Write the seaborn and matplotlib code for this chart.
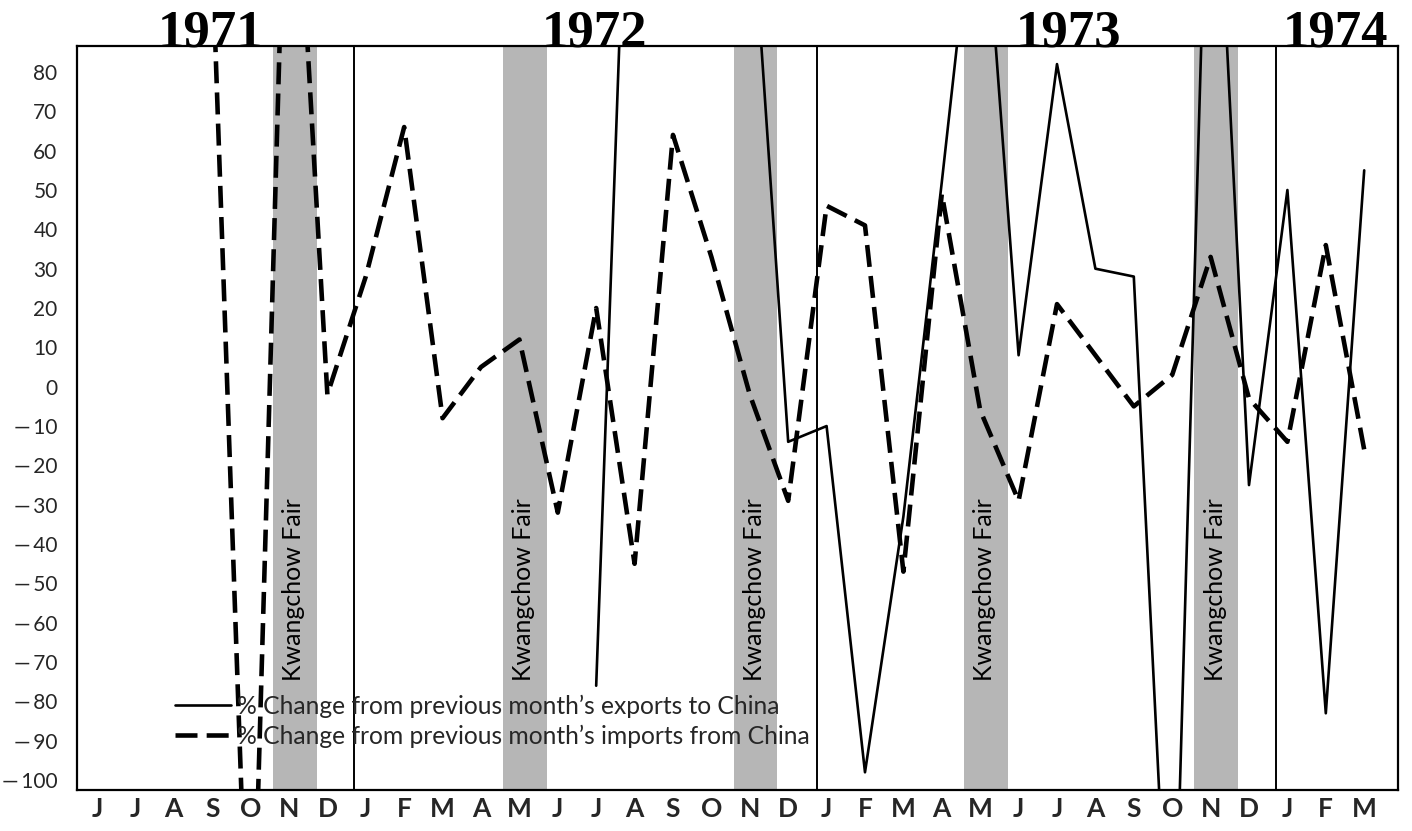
import numpy as np
import pandas as pd
import matplotlib
matplotlib.use("Agg")
import matplotlib.pyplot as plt
import seaborn as sns

nan = np.nan

# ---------------- data (Jun 1971 .. Mar 1974) ----------------
month_letters = ["J", "J", "A", "S", "O", "N", "D",
                 "J", "F", "M", "A", "M", "J", "J", "A", "S", "O", "N", "D",
                 "J", "F", "M", "A", "M", "J", "J", "A", "S", "O", "N", "D",
                 "J", "F", "M"]

# % change from previous month's exports to China (solid)
exports_pct = [nan, nan, nan, nan, nan, nan, nan,
               nan, nan, nan, nan, nan, nan, -76, 195, 200, 180, 130, -14,
               -10, -98, -33, 52, 140, 8, 82, 30, 28, -170, 170, -25,
               50, -83, 55]

# % change from previous month's imports from China (dashed)
imports_pct = [nan, nan, nan, 110, -170, 170, -2,
               28, 66, -8, 5, 12, -32, 20, -45, 64, 33, -2, -29,
               46, 41, -47, 49, -6, -29, 21, 8, -5, 3, 33, -3,
               -14, 36, -16]

year_labels = ["1971", "1972", "1973", "1974"]
fair_months = [5, 11, 17, 23, 29]          # Nov 71, May 72, Nov 72, May 73, Nov 73
fair_label = "Kwangchow Fair"
legend_labels = ["% Change from previous month\u2019s exports to China",
                 "% Change from previous month\u2019s imports from China"]
y_ticks = list(range(-100, 81, 10))

# ---------------- layout ----------------
W, H = 1412, 831
sns.set_style("white")
plt.rcParams['font.family'] = ['Lato', 'DejaVu Sans']

fig = plt.figure(figsize=(W / 100, H / 100), dpi=100)
ax = fig.add_axes([77 / W, 41 / H, 1321 / W, 744 / H])

idx = np.arange(len(month_letters))
df = pd.DataFrame({"month": idx, "exports": exports_pct, "imports": imports_pct})

# fair bands
for m in fair_months:
    ax.axvspan(m - 0.42, m + 0.72, color="#b6b6b6", lw=0, zorder=0)
    ax.text(m + 0.12, -51.5, fair_label, rotation=90, ha="center", va="center",
            fontsize=18, color="black", zorder=1)

# year separators
for b in [6.7, 18.75, 30.7]:
    ax.axvline(b, color="black", lw=1.4, zorder=1)

sns.lineplot(data=df, x="month", y="exports", ax=ax, color="black", lw=1.9,
             zorder=3, legend=False)
line_exp = ax.get_lines()[-1]
sns.lineplot(data=df, x="month", y="imports", ax=ax, color="black", lw=3.3,
             zorder=3, legend=False)
line_imp = ax.get_lines()[-1]
line_imp.set_dashes([4.8, 2.0])
line_imp.set_dash_capstyle("butt")

ax.set_xlim(-0.52, 33.88)
ax.set_ylim(-102.5, 86.6)

ax.set_xticks(idx)
ax.set_xticklabels(month_letters, fontsize=19, fontweight="bold")
ax.set_yticks(y_ticks)
ax.set_yticklabels([str(v) if v >= 0 else "\u2014\u2009" + str(-v) for v in y_ticks],
                   fontsize=15)
ax.tick_params(axis="x", length=0, pad=5)
ax.tick_params(axis="y", length=0, pad=14)
ax.set_xlabel("")
ax.set_ylabel("")
for s in ax.spines.values():
    s.set_color("black")
    s.set_linewidth(1.6)
    s.set_visible(True)

# year labels above the frame
year_x = [2.95, 12.95, 25.3, 32.25]
for lab, x in zip(year_labels, year_x):
    ax.text(x, 1.0, lab, transform=ax.get_xaxis_transform(), ha="center",
            va="baseline", fontsize=38, fontweight="bold",
            family=["Liberation Serif", "DejaVu Serif"], color="black",
            clip_on=False)

leg = ax.legend([line_exp, line_imp], legend_labels, loc="upper left",
                bbox_to_anchor=(0.074, 0.128), frameon=False, fontsize=17.7,
                handlelength=2.3, handletextpad=0.25, labelspacing=0.25,
                borderpad=0, borderaxespad=0)
leg.set_zorder(4)

fig.savefig("out.png", dpi=100)
